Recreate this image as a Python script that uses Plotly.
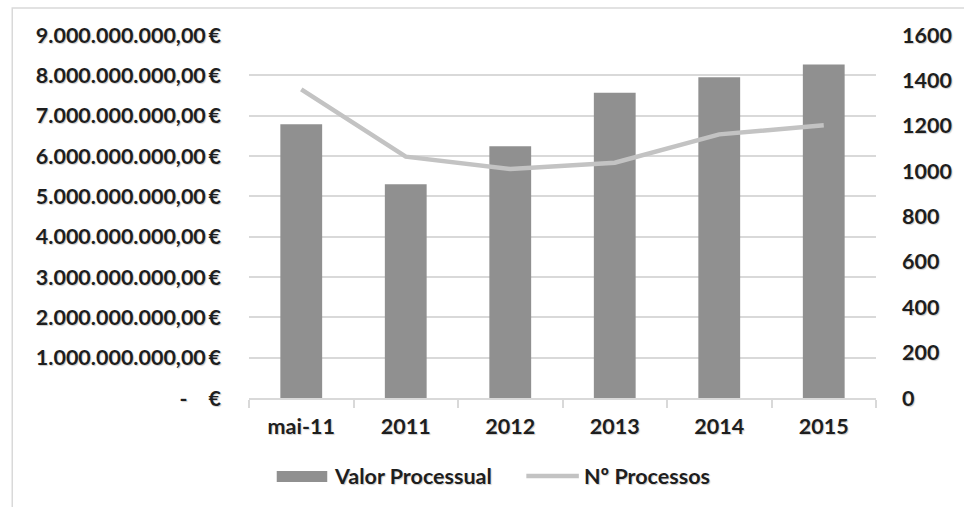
import plotly.graph_objects as go

# Chart data
categories = ["mai-11", "2011", "2012", "2013", "2014", "2015"]
valor_processual = [6.79e9, 5.30e9, 6.24e9, 7.57e9, 7.95e9, 8.27e9]
n_processos = [1360, 1064, 1009, 1037, 1162, 1202]

left_tickvals = [i * 1e9 for i in range(10)]
left_ticktext = ["-\u00a0\u00a0\u00a0\u00a0€"] + [f"{i}.000.000.000,00\u2009€" for i in range(1, 10)]
right_tickvals = list(range(0, 1601, 200))

W, H = 964, 507
L, R, T, B = 249, 82, 35, 109
PW, PH = W - L - R, H - T - B


def px(x):
    return (x - L) / PW


def py(y):
    return (H - B - y) / PH


FONT = dict(family="Lato, 'Open Sans', sans-serif", size=21.5, color="#1e1e1e", weight="bold",
            shadow="1px 1px 1px rgba(0,0,0,0.2)")
BAR_COLOR = "#909090"
LINE_COLOR = "#c3c3c3"
GRID = "#d9d9d9"

fig = go.Figure()
fig.add_trace(go.Bar(x=categories, y=valor_processual, name="Valor Processual",
                     marker=dict(color=BAR_COLOR, line=dict(width=0)), yaxis="y"))
fig.add_trace(go.Scatter(x=categories, y=n_processos, name="Nº Processos", mode="lines",
                         line=dict(color=LINE_COLOR, width=4.5), yaxis="y2"))

fig.update_layout(
    width=W, height=H,
    margin=dict(l=L, r=R, t=T, b=B),
    paper_bgcolor="white", plot_bgcolor="white",
    showlegend=False,
    bargap=0.6,
    font=FONT,
    xaxis=dict(type="category", showgrid=False, showline=True, linecolor=GRID, linewidth=1.5,
               ticks="outside", tickson="boundaries", ticklen=8, tickcolor=GRID, tickwidth=1.5,
               ticklabelstandoff=8, tickfont=FONT),
    yaxis=dict(range=[0, 9e9], tickvals=left_tickvals, ticktext=left_ticktext,
               showgrid=True, gridcolor=GRID, gridwidth=1.5, zeroline=False,
               ticklabelstandoff=27, tickfont=FONT),
    yaxis2=dict(range=[0, 1600], tickvals=right_tickvals, overlaying="y", side="right",
                showgrid=False, zeroline=False, ticklabelstandoff=25, tickfont=FONT),
)

# Chart-area border
fig.add_shape(type="rect", xref="paper", yref="paper",
              x0=px(10), x1=px(975), y0=py(530), y1=py(8),
              line=dict(color=GRID, width=1.5), fillcolor="rgba(0,0,0,0)", layer="below")

# Legend
fig.add_shape(type="rect", xref="paper", yref="paper",
              x0=px(277), x1=px(328), y0=py(482), y1=py(471),
              line=dict(width=0), fillcolor=BAR_COLOR)
fig.add_annotation(xref="paper", yref="paper", x=px(333), y=py(476), text="Valor Processual",
                   showarrow=False, xanchor="left", yanchor="middle", font=FONT)
fig.add_shape(type="line", xref="paper", yref="paper",
              x0=px(529), x1=px(582), y0=py(476), y1=py(476),
              line=dict(color=LINE_COLOR, width=4.5))
fig.add_annotation(xref="paper", yref="paper", x=px(585), y=py(476), text="Nº Processos",
                   showarrow=False, xanchor="left", yanchor="middle", font=FONT)

fig.write_html("out.html")
